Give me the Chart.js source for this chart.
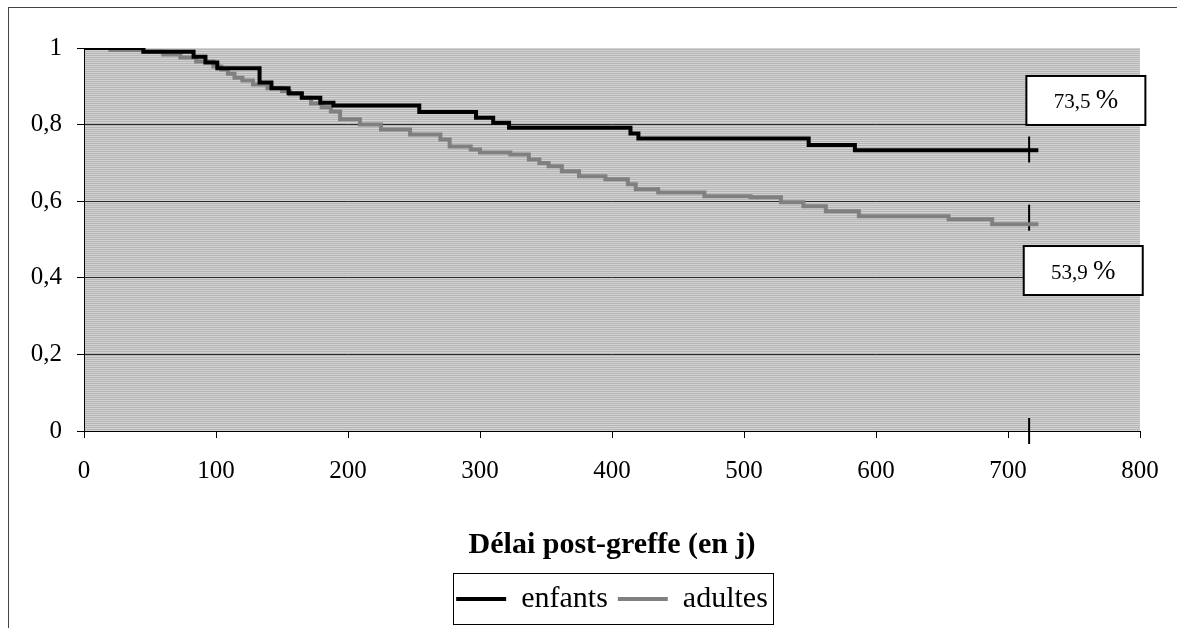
<!DOCTYPE html>
<html>
<head>
<meta charset="utf-8">
<script src="https://cdn.jsdelivr.net/npm/chart.js@4.4.0/dist/chart.umd.min.js"></script>
<style>
  html, body { margin:0; padding:0; background:#fff; }
  #wrap { position:relative; width:1177px; height:628px; overflow:hidden; }
  #frame { position:absolute; left:8px; top:7px; width:1200px; height:700px; border-left:1px solid #444; border-top:1px solid #444; box-sizing:border-box; }
  #chart { position:absolute; left:0; top:0; }
</style>
</head>
<body>
<div id="wrap">
  <div id="frame"></div>
  <canvas id="chart" width="1177" height="628"></canvas>
</div>
<script>
// survie post-greffe : courbes de Kaplan-Meier
const seriesNames = ['enfants', 'adultes'];
const seriesColors = ['#000000', '#808080'];

const enfantsDays = [0, 45, 83, 92, 101, 133, 142, 155, 165, 179, 189, 254, 297, 310, 322, 414, 420, 549, 584, 723];
const enfantsSurv = [1, 0.99, 0.977, 0.962, 0.947, 0.91, 0.895, 0.882, 0.87, 0.857, 0.85, 0.833, 0.818, 0.805, 0.792, 0.777, 0.764, 0.747, 0.733, 0.733];

const adultesDays = [0, 20, 45, 60, 73, 85, 98, 104, 109, 114, 120, 128, 139, 150, 156, 165, 172, 180, 187, 194, 209, 225, 247, 270, 277, 293, 300, 323, 337, 345, 352, 362, 375, 395, 412, 418, 435, 470, 505, 528, 545, 562, 587, 655, 688, 723];
const adultesSurv = [1, 0.995, 0.99, 0.983, 0.975, 0.965, 0.952, 0.944, 0.933, 0.922, 0.915, 0.905, 0.895, 0.888, 0.879, 0.87, 0.855, 0.845, 0.834, 0.814, 0.8, 0.787, 0.774, 0.761, 0.743, 0.735, 0.727, 0.722, 0.709, 0.7, 0.691, 0.678, 0.665, 0.657, 0.644, 0.631, 0.623, 0.613, 0.61, 0.597, 0.587, 0.574, 0.561, 0.553, 0.54, 0.54];

// traits verticaux (fin de suivi)
const censorDays = [716, 716, 716];
const censorSurv = [0.735, 0.557, 0];

// cadres de valeurs finales
const boxTexts = ['73,5', '53,9'];
const boxDays = [759, 757];
const boxSurv = [0.863, 0.419];

const xTitle = 'Délai post-greffe (en j)';

function pts(xs, ys) { return xs.map((x, i) => ({ x, y: ys[i] })); }

const SERIF = "'Liberation Serif', 'Times New Roman', serif";
Chart.defaults.font.family = SERIF;
Chart.defaults.color = '#000';

// fond gris rayé de la zone de tracé
function makePattern() {
  const c = document.createElement('canvas'); c.width = 4; c.height = 2;
  const g = c.getContext('2d');
  g.fillStyle = '#d2d2d2'; g.fillRect(0, 0, 4, 1);
  g.fillStyle = '#b6b6b6'; g.fillRect(0, 1, 4, 1);
  return c;
}

const plotBg = {
  id: 'plotBg',
  beforeDraw(chart) {
    const { ctx, chartArea: a } = chart;
    ctx.save();
    ctx.fillStyle = ctx.createPattern(makePattern(), 'repeat');
    ctx.fillRect(a.left, a.top, a.right - a.left, a.bottom - a.top);
    ctx.restore();
  }
};

const valueBoxes = {
  id: 'valueBoxes',
  afterDatasetsDraw(chart) {
    const { ctx, scales } = chart;
    ctx.save();
    boxTexts.forEach((t, i) => {
      const cx = scales.x.getPixelForValue(boxDays[i]);
      const cy = scales.y.getPixelForValue(boxSurv[i]);
      const w = 119, h = 49;
      ctx.fillStyle = '#fff';
      ctx.fillRect(cx - w / 2, cy - h / 2, w, h);
      ctx.strokeStyle = '#000'; ctx.lineWidth = 2;
      ctx.strokeRect(cx - w / 2, cy - h / 2, w, h);
      ctx.fillStyle = '#000';
      ctx.textBaseline = 'alphabetic';
      ctx.textAlign = 'left';
      ctx.font = '21px ' + SERIF;
      const numW = ctx.measureText(t + ' ').width;
      ctx.font = '27px ' + SERIF;
      const pctW = ctx.measureText('%').width;
      const x0 = cx - (numW + pctW) / 2;
      ctx.font = '21px ' + SERIF;
      ctx.fillText(t + ' ', x0, cy + 8);
      ctx.font = '27px ' + SERIF;
      ctx.fillText('%', x0 + numW, cy + 8);
    });
    ctx.restore();
  }
};

// cadre autour de la légende
const legendFrame = {
  id: 'legendFrame',
  afterDraw(chart) {
    const hb = chart.legend && chart.legend.legendHitBoxes;
    if (!hb || !hb.length) return;
    const first = hb[0], last = hb[hb.length - 1];
    const { ctx } = chart;
    ctx.save();
    ctx.strokeStyle = '#000'; ctx.lineWidth = 1;
    const l = Math.round(first.left) - 2.5, r = Math.round(last.left + last.width) + 5.5;
    const t = Math.round(first.top) - 10.5, b = Math.round(first.top + first.height) + 10.5;
    ctx.strokeRect(l, t, r - l, b - t);
    ctx.restore();
  }
};

const ctx = document.getElementById('chart').getContext('2d');
const chart = new Chart(ctx, {
  type: 'line',
  data: {
    datasets: [
      { label: seriesNames[0], data: pts(enfantsDays, enfantsSurv), borderColor: seriesColors[0], backgroundColor: seriesColors[0], borderWidth: 4, stepped: true, pointRadius: 0, fill: false },
      { label: seriesNames[1], data: pts(adultesDays, adultesSurv), borderColor: seriesColors[1], backgroundColor: seriesColors[1], borderWidth: 4, stepped: true, pointRadius: 0, fill: false },
      { label: 'fin', type: 'scatter', data: pts(censorDays, censorSurv), showLine: false, pointStyle: 'line', rotation: 90,
        pointRadius: 13, borderColor: '#000', borderWidth: 2, clip: false }
    ]
  },
  options: {
    responsive: false,
    animation: false,
    layout: { padding: { left: 0, top: 48, right: 37, bottom: 4 } },
    plugins: {
      legend: {
        display: true, position: 'bottom', fullSize: false,
        labels: {
          usePointStyle: true, pointStyle: 'line', pointStyleWidth: 50, padding: 10,
          font: { size: 30 }, color: '#000',
          filter: item => item.datasetIndex < 2
        }
      },
      tooltip: { enabled: false }
    },
    scales: {
      x: {
        type: 'linear', min: 0, max: 800,
        ticks: { stepSize: 100, font: { size: 25 }, padding: 18, color: '#000' },
        grid: { drawOnChartArea: false, tickLength: 7, tickColor: '#000' },
        border: { color: '#000', width: 1 },
        title: { display: true, text: xTitle, font: { size: 30, weight: 'bold' }, padding: { top: 0, bottom: 11 }, color: '#000' },
        afterFit(s) { s.height = 143; }
      },
      y: {
        min: 0, max: 1,
        ticks: { stepSize: 0.2, font: { size: 25 }, padding: 15, color: '#000',
                 callback: v => String(Math.round(v * 10) / 10).replace('.', ',') },
        grid: { color: c => (c.tick && c.tick.value >= 1 ? 'rgba(0,0,0,0)' : '#2a2a2a'), lineWidth: 1, tickLength: 7, tickColor: '#000' },
        border: { color: '#000', width: 1 },
        afterFit(s) { s.width = 84; }
      }
    }
  },
  plugins: [plotBg, valueBoxes, legendFrame]
});
</script>
</body>
</html>
